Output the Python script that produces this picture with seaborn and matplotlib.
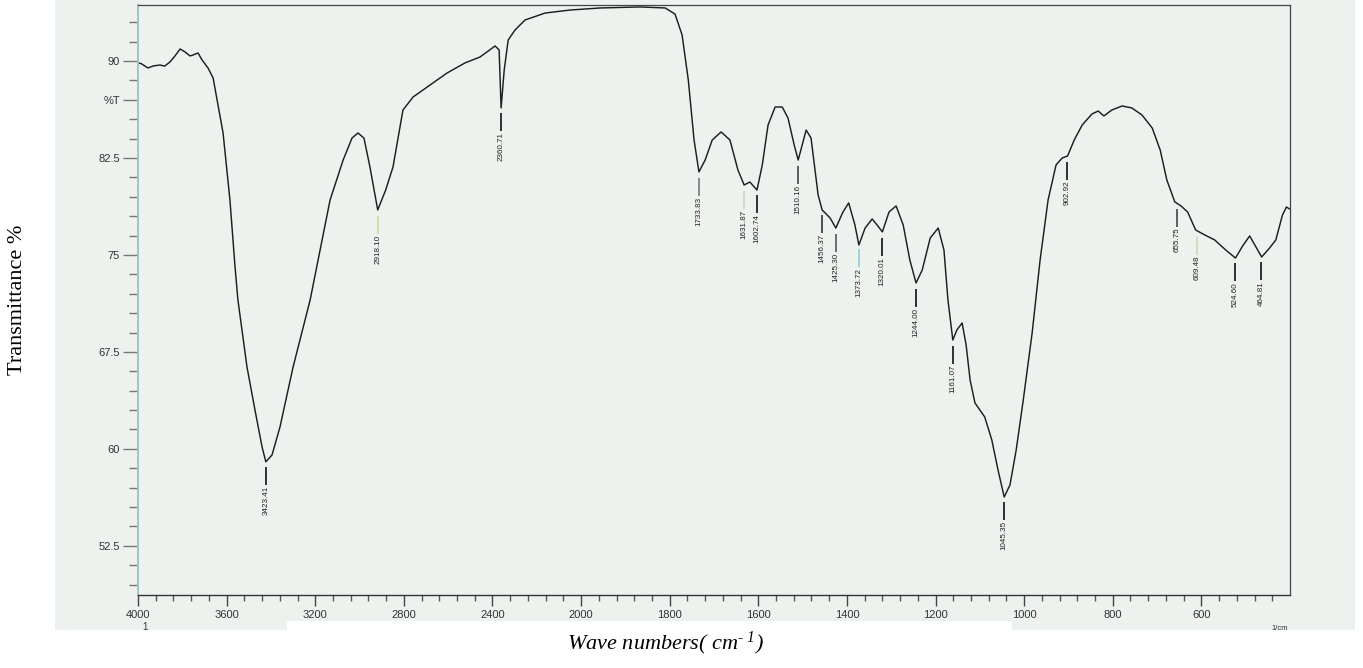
import numpy as np
import matplotlib
matplotlib.use("Agg")
import matplotlib.pyplot as plt
import seaborn as sns
from matplotlib.patches import Rectangle
from matplotlib.ticker import FixedLocator, FixedFormatter

# FTIR spectrum: wavenumber (cm-1) and transmittance (%T)
wavenumber = [4000, 3986, 3955, 3930, 3901, 3880, 3856, 3833, 3810, 3788, 3765, 3752,
              3729, 3711, 3684, 3661, 3639, 3616, 3585, 3562, 3549, 3508, 3472, 3440,
              3423, 3395, 3359, 3300, 3223, 3178, 3133, 3074, 3034, 3007, 2980, 2953,
              2918, 2882, 2849, 2804, 2758, 2682, 2605, 2524, 2456, 2388, 2370, 2361,
              2347, 2329, 2298, 2253, 2162, 2050, 1957, 1867, 1810, 1788, 1772, 1758,
              1745, 1734, 1720, 1704, 1684, 1664, 1646, 1632, 1619, 1603, 1591, 1578,
              1562, 1546, 1533, 1519, 1510, 1492, 1481, 1472, 1465, 1456, 1438, 1425,
              1409, 1396, 1382, 1373, 1359, 1343, 1332, 1320, 1305, 1289, 1273, 1258,
              1244, 1230, 1212, 1194, 1181, 1172, 1161, 1152, 1140, 1131, 1122, 1111,
              1089, 1073, 1059, 1045, 1032, 1018, 1002, 982, 964, 946, 928, 914,
              902, 887, 869, 847, 833, 820, 802, 779, 757, 734, 711, 693,
              678, 660, 646, 631, 613, 592, 570, 545, 523, 507, 491, 478,
              464, 446, 432, 417, 408, 401]
transmittance = [89.85, 89.80, 89.46, 89.62, 89.69, 89.60, 89.92, 90.39, 90.93, 90.70, 90.39, 90.46,
                 90.62, 90.08, 89.46, 88.69, 86.60, 84.43, 79.25, 74.07, 71.52, 66.33, 63.01, 60.15,
                 59.00, 59.53, 61.70, 66.33, 71.52, 75.38, 79.25, 82.34, 84.04, 84.43, 84.04, 81.80,
                 78.48, 80.02, 81.80, 86.21, 87.22, 88.14, 89.07, 89.85, 90.31, 91.16, 90.85, 86.37,
                 89.30, 91.62, 92.40, 93.17, 93.71, 93.94, 94.10, 94.18, 94.10, 93.63, 92.01, 88.53,
                 83.89, 81.42, 82.34, 83.89, 84.51, 83.89, 81.57, 80.41, 80.64, 80.02, 81.96, 85.05,
                 86.44, 86.44, 85.59, 83.50, 82.34, 84.66, 84.04, 81.57, 79.64, 78.48, 77.86, 77.08,
                 78.32, 79.02, 77.32, 75.77, 77.08, 77.78, 77.32, 76.78, 78.32, 78.79, 77.32, 74.61,
                 72.83, 73.84, 76.31, 77.08, 75.38, 71.52, 68.42, 69.19, 69.74, 68.04, 65.33, 63.55,
                 62.47, 60.69, 58.37, 56.28, 57.21, 59.91, 63.78, 68.96, 74.61, 79.25, 81.96, 82.50,
                 82.65, 83.89, 85.05, 85.90, 86.13, 85.75, 86.21, 86.52, 86.37, 85.82, 84.82, 83.12,
                 80.80, 79.10, 78.79, 78.32, 76.93, 76.54, 76.16, 75.38, 74.76, 75.69, 76.47, 75.69,
                 74.84, 75.54, 76.16, 78.09, 78.71, 78.55]

# Picked peaks
peak_wn = [3423.41, 2918.10, 2360.71, 1733.83, 1631.87, 1602.74, 1510.16, 1456.37,
           1425.30, 1373.72, 1320.01, 1244.00, 1161.07, 1045.35, 902.92, 655.75,
           609.48, 524.60, 464.81]
peak_colors = ["#111111", "#d9d49a", "#111111", "#777777", "#cdd5c0", "#111111",
               "#444444", "#333333", "#555555", "#8fd0dc", "#111111", "#111111",
               "#111111", "#111111", "#111111", "#444444", "#d6d6b0", "#111111",
               "#111111"]

x_major = [4000, 3600, 3200, 2800, 2400, 2000, 1800, 1600, 1400, 1200, 1000, 800, 600]
x_major_labels = ["4000", "3600", "3200", "2800", "2400", "2000", "1800", "1600",
                  "1400", "1200", "1000", "800", "600"]
y_major = [52.5, 60, 67.5, 75, 82.5, 87, 90]
y_major_labels = ["52.5", "60", "67.5", "75", "82.5", "%T", "90"]

W, H = 1363, 668
BG = "#eef2ee"

sns.set_style("white")
plt.rcParams["font.family"] = ["Liberation Sans", "DejaVu Sans"]
plt.rcParams["mathtext.fontset"] = "custom"
plt.rcParams["mathtext.rm"] = "Liberation Serif:italic"
plt.rcParams["mathtext.it"] = "Liberation Serif:italic"

fig = plt.figure(figsize=(W / 100, H / 100), dpi=100)
fig.patch.set_facecolor("white")


def fig_rect(x0, y0, x1, y1, color):
    fig.add_artist(Rectangle((x0 / W, 1 - y1 / H), (x1 - x0) / W, (y1 - y0) / H,
                             transform=fig.transFigure, facecolor=color,
                             edgecolor="none", zorder=0))


# scanned sheet tone, with the caption strip left blank
fig_rect(55, 0, 1355, 630, BG)
fig_rect(287, 621, 1012, 668, "white")

ax = fig.add_axes([138 / W, 1 - 595 / H, (1290 - 138) / W, (595 - 5) / H])
ax.set_facecolor("none")
ax.set_zorder(2)

sns.lineplot(x=wavenumber, y=transmittance, sort=False, estimator=None,
             color="#1e1e1e", linewidth=1.05, ax=ax)


# wavenumber axis: the range below 2000 cm-1 is stretched two-fold
def fwd(w):
    w = np.asarray(w, dtype=float)
    return np.where(w >= 2000, w, 2 * w - 2000)


def inv(p):
    p = np.asarray(p, dtype=float)
    return np.where(p >= 2000, p, (p + 2000) / 2)


ax.set_xscale("function", functions=(fwd, inv))
ax.set_xlim(4000, 400)
ax.set_ylim(48.7, 94.33)

x_minor = list(np.arange(4000, 2000, -80)) + list(np.arange(2000, 439, -40))
ax.xaxis.set_major_locator(FixedLocator(x_major))
ax.xaxis.set_major_formatter(FixedFormatter(x_major_labels))
ax.xaxis.set_minor_locator(FixedLocator(x_minor))

y_minor = list(np.arange(49.5, 94.0, 1.5))
ax.yaxis.set_major_locator(FixedLocator(y_major))
ax.yaxis.set_major_formatter(FixedFormatter(y_major_labels))
ax.yaxis.set_minor_locator(FixedLocator(y_minor))

ax.tick_params(axis="x", which="both", bottom=True, top=False)
ax.tick_params(axis="y", which="both", left=True, right=False)
ax.tick_params(axis="x", which="major", direction="out", length=8, width=1,
               color="#444444", labelsize=8, labelcolor="#333333", pad=3)
ax.tick_params(axis="x", which="minor", direction="out", length=4.5, width=1,
               color="#555555")
ax.tick_params(axis="y", which="major", direction="out", length=11, width=1,
               color="#777777", labelsize=8, labelcolor="#333333", pad=2)
ax.tick_params(axis="y", which="minor", direction="out", length=6.5, width=1,
               color="#777777")

for side in ["top", "right", "bottom", "left"]:
    ax.spines[side].set_visible(True)
ax.spines["left"].set_color("#9cc4cc")
ax.spines["left"].set_linewidth(1.4)
ax.spines["bottom"].set_color("#333333")
ax.spines["bottom"].set_linewidth(1.0)
ax.spines["top"].set_color("#444444")
ax.spines["top"].set_linewidth(0.9)
ax.spines["right"].set_color("#444444")
ax.spines["right"].set_linewidth(0.9)

# peak markers: short tick below each band plus its rotated wavenumber
px = 0.07734  # %T per pixel
gap, stem = 6 * px, 18 * px
wn_sorted = np.array(wavenumber[::-1], dtype=float)
t_sorted = np.array(transmittance[::-1], dtype=float)
for w, c in zip(peak_wn, peak_colors):
    t = np.interp(w, wn_sorted, t_sorted)
    y0 = t - gap
    y1 = y0 - stem
    ax.plot([w, w], [y0, y1], color=c, linewidth=1.2, solid_capstyle="butt")
    ax.text(w, y1 - 0.05, f"{w:.2f}", rotation=90, ha="center", va="top",
            fontsize=5.8, color="#222222")

fig.text(145 / W, 1 - 627 / H, "1", ha="center", va="center", fontsize=7, color="#333333")
fig.text(1280 / W, 1 - 628 / H, "1/cm", ha="center", va="center", fontsize=5.5,
         color="#333333")

fig.text(18 / W, 1 - 300 / H, "Transmittance %", rotation=90, ha="center", va="center",
         fontsize=16, family="Liberation Serif", color="black")
fig.text(665 / W, 1 - 643 / H, r"Wave numbers( cm$^{\text{- 1}}$)", ha="center",
         va="center", fontsize=16, family="Liberation Serif", style="italic", color="black")

fig.savefig("out.png", dpi=100)
